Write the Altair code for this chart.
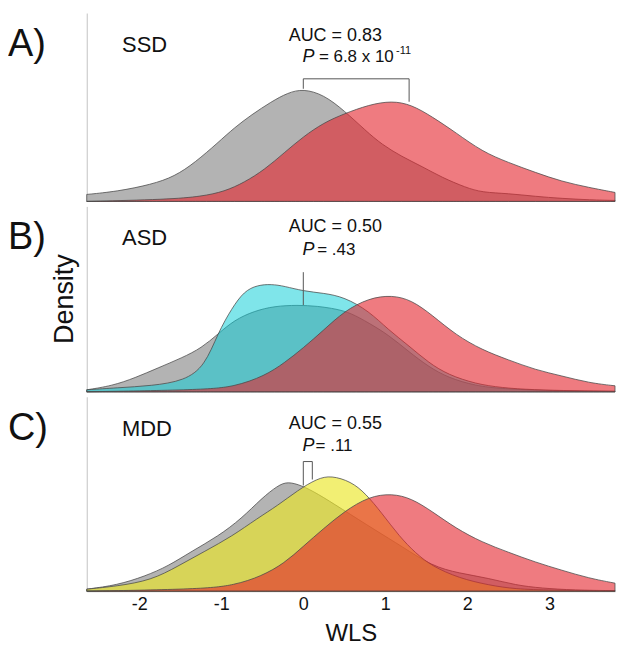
import altair as alt
import pandas as pd

FONT = "Liberation Sans"

# ---------------- data (WLS value, density) ----------------
# Panel A: SSD
a_grey_x = [-2.64, -2.27, -1.85, -1.57, -1.32, -1.04, -0.84, -0.63, -0.39, -0.19, 0.00, 0.25, 0.50, 0.76, 0.96, 1.20, 1.45, 1.69, 1.98, 2.18, 2.50, 2.83, 3.15, 3.50, 3.80]
a_grey_y = [0.028, 0.040, 0.068, 0.100, 0.156, 0.236, 0.296, 0.348, 0.400, 0.436, 0.452, 0.428, 0.364, 0.284, 0.228, 0.180, 0.140, 0.096, 0.056, 0.036, 0.032, 0.020, 0.012, 0.006, 0.004]
a_red_x = [-2.64, -1.65, -1.24, -0.96, -0.72, -0.47, -0.23, 0.00, 0.25, 0.50, 0.80, 1.08, 1.32, 1.57, 1.86, 2.18, 2.50, 2.83, 3.15, 3.48, 3.80]
a_red_y = [0.000, 0.008, 0.020, 0.040, 0.076, 0.128, 0.196, 0.260, 0.316, 0.352, 0.388, 0.404, 0.388, 0.340, 0.276, 0.200, 0.156, 0.116, 0.080, 0.056, 0.036]

# Panel B: ASD
b_grey_x = [-2.64, -2.33, -2.05, -1.77, -1.48, -1.24, -1.04, -0.84, -0.60, -0.35, -0.07, 0.17, 0.41, 0.58, 0.80, 1.04, 1.29, 1.53, 1.77, 2.10, 2.42, 3.00, 3.80]
b_grey_y = [0.008, 0.024, 0.056, 0.096, 0.136, 0.176, 0.232, 0.288, 0.324, 0.344, 0.348, 0.344, 0.332, 0.316, 0.276, 0.228, 0.160, 0.100, 0.056, 0.024, 0.012, 0.004, 0.002]
b_cyan_x = [-2.64, -2.27, -1.85, -1.45, -1.20, -1.04, -0.87, -0.72, -0.56, -0.39, -0.23, 0.00, 0.25, 0.50, 0.80, 1.04, 1.29, 1.53, 1.77, 2.10, 2.42, 2.80, 3.30, 3.80]
b_cyan_y = [0.008, 0.016, 0.024, 0.044, 0.104, 0.236, 0.336, 0.404, 0.428, 0.432, 0.424, 0.404, 0.396, 0.380, 0.324, 0.248, 0.184, 0.116, 0.068, 0.032, 0.016, 0.008, 0.004, 0.002]
b_red_x = [-2.64, -1.24, -0.84, -0.47, -0.23, 0.00, 0.25, 0.50, 0.80, 1.08, 1.32, 1.57, 1.86, 2.18, 2.50, 2.83, 3.15, 3.48, 3.80]
b_red_y = [0.000, 0.008, 0.020, 0.064, 0.116, 0.176, 0.248, 0.324, 0.376, 0.388, 0.368, 0.308, 0.228, 0.168, 0.128, 0.088, 0.064, 0.036, 0.024]

# Panel C: MDD
c_grey_x = [-2.64, -2.27, -1.93, -1.65, -1.36, -1.04, -0.75, -0.51, -0.31, -0.19, -0.02, 0.17, 0.46, 0.88, 1.20, 1.57, 1.90, 2.26, 2.59, 2.90, 3.30, 3.80]
c_grey_y = [0.008, 0.024, 0.060, 0.100, 0.160, 0.220, 0.292, 0.372, 0.424, 0.440, 0.424, 0.392, 0.332, 0.244, 0.180, 0.100, 0.072, 0.052, 0.024, 0.012, 0.004, 0.002]
c_yel_x = [-2.64, -2.27, -1.85, -1.53, -1.20, -0.87, -0.56, -0.31, -0.07, 0.17, 0.34, 0.58, 0.76, 0.96, 1.17, 1.37, 1.57, 1.90, 2.26, 2.59, 3.00, 3.80]
c_yel_y = [0.008, 0.020, 0.044, 0.100, 0.160, 0.220, 0.292, 0.344, 0.404, 0.452, 0.464, 0.440, 0.392, 0.312, 0.220, 0.152, 0.100, 0.052, 0.024, 0.008, 0.004, 0.001]
c_red_x = [-2.64, -1.24, -0.84, -0.51, -0.23, 0.00, 0.25, 0.50, 0.80, 1.08, 1.32, 1.57, 1.86, 2.18, 2.50, 2.83, 3.15, 3.48, 3.80]
c_red_y = [0.000, 0.008, 0.024, 0.060, 0.112, 0.180, 0.252, 0.320, 0.380, 0.392, 0.372, 0.320, 0.252, 0.196, 0.156, 0.116, 0.084, 0.052, 0.032]

# annotations
letters = ["A)", "B)", "C)"]
groups = ["SSD", "ASD", "MDD"]
auc_text = ["AUC = 0.83", "AUC = 0.50", "AUC = 0.55"]
p_text = ["= 6.8 x 10", "= .43", "= .11"]
p_sup = ["-11", "", ""]

# brackets (x, density) per panel
brk_a_x = [0.0, 0.0, 1.29, 1.29]
brk_a_y = [0.452, 0.492, 0.492, 0.400]
brk_b_x = [0.0, 0.0]
brk_b_y = [0.348, 0.480]
brk_c_x = [0.0, 0.0, 0.11, 0.11]
brk_c_y = [0.424, 0.520, 0.520, 0.448]

x_ticks = [-2, -1, 0, 1, 2, 3]
X_DOMAIN = [-2.64, 3.80]

# ---------------- styling ----------------
GREY = "#b3b3b3"
RED = "#e4232b"
CYAN = "#0acdd7"
YELLOW = "#ebe628"
LINE = "#4a4a4a"

W = 530
heights = [189, 186, 195]
ymax = [h / 250.0 for h in heights]


def area(xs, ys, fill, opacity, xsc, ysc, xaxis, yaxis):
    df = pd.DataFrame({"x": xs, "d": ys})
    return alt.Chart(df).mark_area(
        interpolate="basis", fill=fill, fillOpacity=opacity,
        stroke=LINE, strokeWidth=0.9, strokeOpacity=0.85
    ).encode(
        x=alt.X("x:Q", scale=xsc, axis=xaxis),
        y=alt.Y("d:Q", scale=ysc, axis=yaxis),
    )


def panel(i, series, brk_x, brk_y, auc_xy, p_xy, eq_x, sup_xy, bottom):
    xsc = alt.Scale(domain=X_DOMAIN, nice=False, zero=False)
    ysc = alt.Scale(domain=[0, ymax[i]], nice=False, zero=True)
    if bottom:
        xaxis = alt.Axis(values=x_ticks, title="WLS", ticks=False, labelFontSize=18,
                         labelExpr="toString(datum.value)",
                         labelPadding=4, titleFontSize=24, titleFontWeight="normal",
                         titlePadding=9, grid=False, domainColor="#888888",
                         labelColor="#111111", titleColor="#111111", labelFont=FONT,
                         titleFont=FONT)
    else:
        xaxis = None
    yaxis = alt.Axis(labels=False, ticks=False, title=None, grid=False,
                     domainColor="#c4c4c4")

    layers = []
    for xs, ys, fill, op in series:
        layers.append(area(xs, ys, fill, op, xsc, ysc, xaxis, yaxis))

    bdf = pd.DataFrame({"x": brk_x, "d": brk_y, "o": list(range(len(brk_x)))})
    layers.append(alt.Chart(bdf).mark_line(color="#555555", strokeWidth=1).encode(
        x=alt.X("x:Q", scale=xsc), y=alt.Y("d:Q", scale=ysc), order="o:O"))

    top_px = 32
    name_y = (heights[i] - top_px) / 250.0
    ndf = pd.DataFrame({"x": [-2.21], "d": [name_y], "t": [groups[i]]})
    layers.append(alt.Chart(ndf).mark_text(align="left", baseline="middle", fontSize=22,
                                            font=FONT, color="#111111").encode(
        x=alt.X("x:Q", scale=xsc), y=alt.Y("d:Q", scale=ysc), text="t:N"))

    adf = pd.DataFrame({"x": [auc_xy[0]], "d": [auc_xy[1]], "t": [auc_text[i]]})
    layers.append(alt.Chart(adf).mark_text(align="center", baseline="middle", fontSize=18,
                                            font=FONT, color="#111111").encode(
        x=alt.X("x:Q", scale=xsc), y=alt.Y("d:Q", scale=ysc), text="t:N"))

    pdf = pd.DataFrame({"x": [p_xy[0]], "d": [p_xy[1]], "t": ["P"]})
    layers.append(alt.Chart(pdf).mark_text(align="left", baseline="middle", fontSize=18,
                                            fontStyle="italic", font=FONT, color="#111111").encode(
        x=alt.X("x:Q", scale=xsc), y=alt.Y("d:Q", scale=ysc), text="t:N"))

    edf = pd.DataFrame({"x": [eq_x], "d": [p_xy[1]], "t": [p_text[i]]})
    layers.append(alt.Chart(edf).mark_text(align="left", baseline="middle", fontSize=17,
                                            font=FONT, color="#111111").encode(
        x=alt.X("x:Q", scale=xsc), y=alt.Y("d:Q", scale=ysc), text="t:N"))

    if p_sup[i]:
        sdf = pd.DataFrame({"x": [sup_xy[0]], "d": [sup_xy[1]], "t": [p_sup[i]]})
        layers.append(alt.Chart(sdf).mark_text(align="left", baseline="middle", fontSize=11,
                                                font=FONT, color="#111111").encode(
            x=alt.X("x:Q", scale=xsc), y=alt.Y("d:Q", scale=ysc), text="t:N"))

    ldf = pd.DataFrame({"t": [letters[i]]})
    layers.append(alt.Chart(ldf).mark_text(align="left", baseline="middle", fontSize=38,
                                            font=FONT, color="#111111").encode(
        x=alt.value(-79), y=alt.value(top_px), text="t:N"))

    if i == 1:
        ddf = pd.DataFrame({"t": ["Density"]})
        layers.append(alt.Chart(ddf).mark_text(align="center", baseline="middle", fontSize=27,
                                                angle=270, font=FONT, color="#111111").encode(
            x=alt.value(-22), y=alt.value(heights[i] / 2), text="t:N"))

    return alt.layer(*layers).properties(width=W, height=heights[i])


pA = panel(0,
           [(a_grey_x, a_grey_y, GREY, 1.0), (a_red_x, a_red_y, RED, 0.6)],
           brk_a_x, brk_a_y, (0.39, 0.664), (-0.01, 0.58), 0.19, (1.13, 0.605), False)
pB = panel(1,
           [(b_grey_x, b_grey_y, GREY, 1.0), (b_cyan_x, b_cyan_y, CYAN, 0.52),
            (b_red_x, b_red_y, RED, 0.6)],
           brk_b_x, brk_b_y, (0.39, 0.66), (-0.01, 0.568), 0.17, (0, 0), False)
pC = panel(2,
           [(c_grey_x, c_grey_y, GREY, 1.0), (c_yel_x, c_yel_y, YELLOW, 0.65),
            (c_red_x, c_red_y, RED, 0.6)],
           brk_c_x, brk_c_y, (0.39, 0.672), (-0.01, 0.584), 0.15, (0, 0), True)

chart = alt.vconcat(pA, pB, pC, spacing=3).properties(
    padding={"left": 0, "top": 4, "right": 0, "bottom": 0}
).configure(font=FONT).configure_view(stroke=None)

chart.save("out.html", embed_options={"renderer": "svg", "actions": False})
